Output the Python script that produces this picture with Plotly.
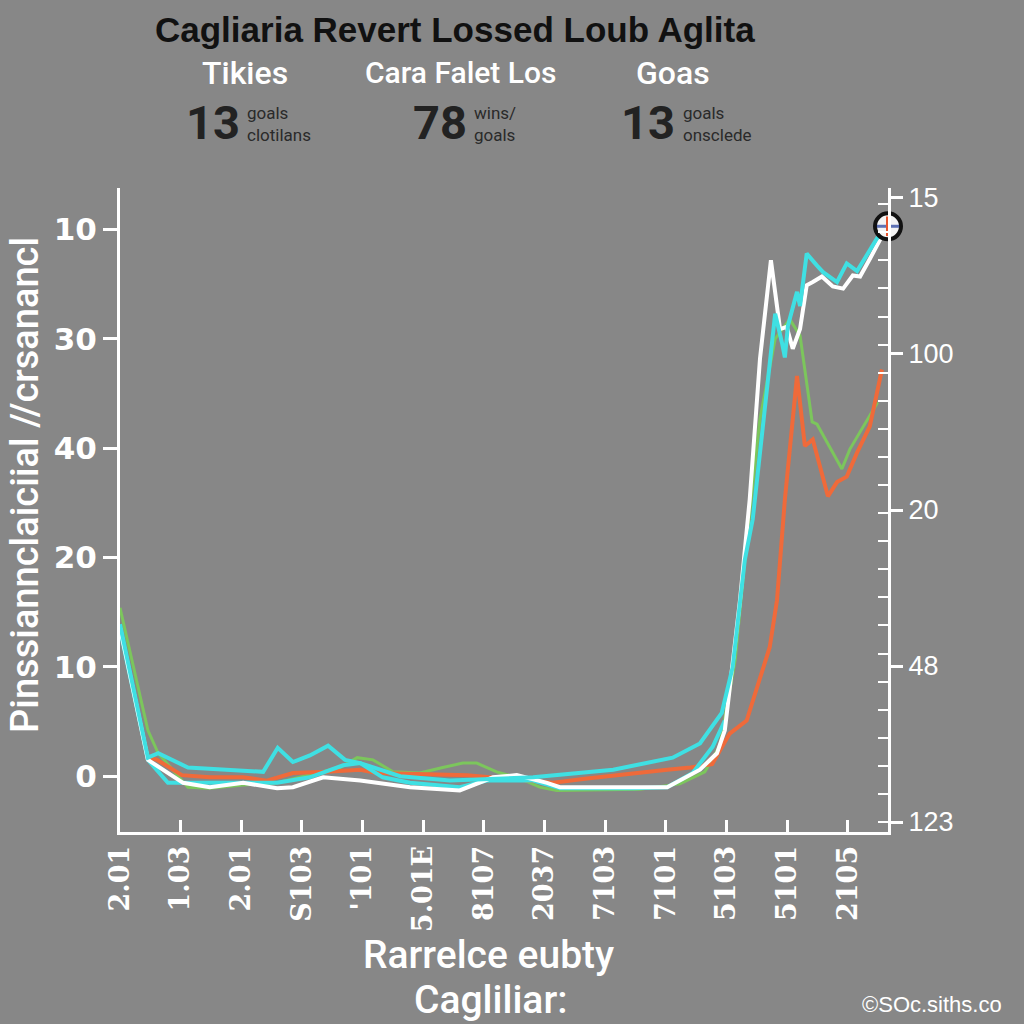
import plotly.graph_objects as go

# ---------------- data ----------------
x_ticks = list(range(13))
x_tick_labels = ["2.01", "1.03", "2.01", "S103", "'101", "5.01E", "8107",
                 "2037", "7103", "7101", "5103", "5101", "2105"]

left_tick_vals = [0, 10, 20, 30, 40, 50]
left_tick_text = ["0", "10", "20", "40", "30", "10"]

right_tick_vals = [0, 1, 2, 3, 4]
right_tick_text = ["123", "48", "20", "100", "15"]

white_x = [0, 0.46, 1.04, 1.48, 2.03, 2.59, 2.85, 3.35, 3.96, 4.78, 5.60, 6.15, 6.54,
           7.04, 7.25, 9.02, 9.56, 9.84, 9.97, 10.09, 10.22, 10.38, 10.55, 10.73,
           10.88, 10.99, 11.09, 11.21, 11.32, 11.42, 11.57, 11.75, 11.92, 12.08,
           12.20, 12.36, 12.56]
white_y = [13.6, 1.5, -0.6, -1.0, -0.6, -1.1, -1.0, -0.1, -0.4, -1.0, -1.3, -0.1, 0.1,
           -0.6, -1.0, -1.0, 0.6, 2.1, 4.2, 10.0, 16.1, 25.3, 38.2, 47.2,
           40.9, 41.1, 39.1, 40.9, 44.9, 45.2, 45.7, 44.8, 44.6, 45.8,
           45.7, 47.3, 49.4]

cyan_a_x = [0, 0.46, 0.63, 1.12, 2.36, 2.60, 2.85, 3.13, 3.43, 3.71, 3.96, 4.62, 5.44,
            6.81, 8.13, 9.11, 9.56, 9.92, 10.10, 10.30, 10.43, 10.55, 10.80, 10.91,
            10.96, 11.01, 11.16, 11.21, 11.32, 11.49, 11.59, 11.82, 11.98, 12.15,
            12.31, 12.48, 12.66]
cyan_a_y = [13.9, 1.7, 2.1, 0.8, 0.4, 2.6, 1.3, 1.9, 2.8, 1.5, 1.2, 0.0, -0.4,
            -0.1, 0.6, 1.7, 3.0, 5.8, 10.0, 19.8, 23.5, 29.6, 42.3, 39.7,
            38.3, 41.2, 44.3, 43.0, 47.8, 46.7, 46.1, 45.2, 46.9, 46.2,
            47.6, 49.2, 50.3]

cyan_b_x = [0, 0.46, 0.79, 1.15, 2.59, 3.13, 3.68, 3.96, 4.33, 4.78, 5.60, 6.05, 6.81,
            7.25, 8.46, 9.02, 9.44, 9.77, 9.97]
cyan_b_y = [13.4, 1.5, -0.6, -0.6, -0.6, -0.1, 1.0, 1.2, -0.1, -0.6, -1.0, -0.4, -0.4,
            -1.1, -1.1, -1.0, 0.3, 2.7, 5.1]

green_x = [0, 0.46, 0.63, 0.99, 1.12, 1.48, 2.03, 2.59, 3.63, 3.91, 4.17, 4.50, 4.94,
           5.32, 5.65, 5.88, 6.21, 6.59, 6.92, 7.20, 8.57, 9.23, 9.64, 9.89, 10.14,
           10.35, 10.55, 10.80, 11.04, 11.21, 11.29, 11.41, 11.49, 11.90, 12.03,
           12.25, 12.49]
green_y = [15.4, 4.2, 2.1, -0.2, -1.0, -1.1, -0.8, -0.6, 0.8, 1.7, 1.5, 0.4, 0.3,
           0.8, 1.2, 1.2, 0.4, -0.2, -1.0, -1.3, -1.2, -0.7, 0.4, 2.8, 10.6,
           22.6, 32.7, 40.0, 41.8, 40.3, 37.2, 32.4, 32.2, 28.1, 29.9,
           32.0, 34.2]

orange_x = [0.49, 0.61, 1.02, 1.48, 2.03, 2.42, 2.85, 3.41, 3.96, 4.24, 5.72, 6.26,
            7.14, 7.70, 8.46, 9.02, 9.40, 9.76, 10.05, 10.33, 10.71, 10.83, 10.96,
            11.16, 11.29, 11.42, 11.67, 11.82, 11.98, 12.15, 12.36, 12.56]
orange_y = [1.7, 1.5, 0.1, -0.1, -0.1, -0.4, 0.3, 0.4, 0.6, 0.3, 0.1, -0.2,
            -0.6, -0.2, 0.3, 0.6, 0.8, 1.1, 3.9, 5.1, 11.8, 16.1, 25.3,
            36.6, 30.2, 30.8, 25.6, 26.9, 27.4, 29.6, 32.0, 37.2]

stat_heads = ["Tikies", "Cara Falet Los", "Goas"]
stat_nums = ["13", "78", "13"]
stat_notes = ["goals<br>clotilans", "wins/<br>goals", "goals<br>onsclede"]

# ---------------- styling ----------------
BG = "#878787"
WHITE = "#ffffff"
CYAN = "#3fe0e3"
GREEN = "#7cc65c"
ORANGE = "#ef6a3a"
NARROW = "Liberation Sans Narrow, Roboto, Arial, sans-serif"

fig = go.Figure()

def add_line(xs, ys, color, width=4):
    fig.add_trace(go.Scatter(x=xs, y=ys, mode="lines",
                             line=dict(color=color, width=width),
                             hoverinfo="skip", showlegend=False, cliponaxis=False))

add_line(green_x, green_y, GREEN, 3)
add_line(orange_x, orange_y, ORANGE, 4)
add_line(cyan_b_x, cyan_b_y, CYAN, 4)
add_line(white_x, white_y, WHITE, 4)
add_line(cyan_a_x, cyan_a_y, CYAN, 4)

# badge at end of the cyan line
fig.add_trace(go.Scatter(x=[cyan_a_x[-1]], y=[cyan_a_y[-1]], mode="markers",
                         marker=dict(symbol="circle", size=26, color="#f4f4f4",
                                     line=dict(color="#111111", width=4)),
                         hoverinfo="skip", showlegend=False, cliponaxis=False))
fig.add_trace(go.Scatter(x=[cyan_a_x[-1]], y=[cyan_a_y[-1]], mode="markers",
                         marker=dict(symbol="line-ew", size=16,
                                     line=dict(color="#1f3a9a", width=3)),
                         opacity=0.7, hoverinfo="skip", showlegend=False, cliponaxis=False))
fig.add_trace(go.Scatter(x=[cyan_a_x[-1]], y=[cyan_a_y[-1]], mode="markers",
                         marker=dict(symbol="line-ns", size=14,
                                     line=dict(color="#e8552e", width=4)),
                         hoverinfo="skip", showlegend=False, cliponaxis=False))

# dummy trace for the right axis
fig.add_trace(go.Scatter(x=[None], y=[None], yaxis="y2", showlegend=False))

fig.update_layout(
    width=1024, height=1024,
    paper_bgcolor=BG, plot_bgcolor=BG,
    margin=dict(l=120, r=136, t=188, b=192),
    showlegend=False,
    xaxis=dict(
        range=[0, 12.66], tickmode="array", tickvals=x_ticks, ticktext=x_tick_labels,
        tickangle=-90, ticks="inside", ticklen=12, tickwidth=3, tickcolor=WHITE,
        showline=True, linecolor=WHITE, linewidth=3, showgrid=False, zeroline=False,
        tickfont=dict(family="DejaVu Serif", size=27, color=WHITE, weight="bold"),
    ),
    yaxis=dict(
        range=[-5.1, 53.8], tickmode="array", tickvals=left_tick_vals, ticktext=left_tick_text,
        ticks="outside", ticklen=14, tickwidth=3, tickcolor=WHITE,
        showline=True, linecolor=WHITE, linewidth=3, showgrid=False, zeroline=False,
        tickfont=dict(family="DejaVu Sans", size=31, color=WHITE, weight="bold"),
    ),
    yaxis2=dict(
        overlaying="y", side="right", anchor="x",
        range=[-0.064, 4.064], tickmode="array", tickvals=right_tick_vals,
        ticktext=right_tick_text,
        ticks="outside", ticklen=12, tickwidth=3, tickcolor=WHITE,
        showline=True, linecolor=WHITE, linewidth=3, showgrid=False, zeroline=False,
        tickfont=dict(family="Liberation Sans", size=27, color=WHITE),
        minor=dict(tick0=0, dtick=0.18, ticks="inside", ticklen=10, tickwidth=2,
                   tickcolor=WHITE, showgrid=False),
    ),
)

ann = []
ann.append(dict(text="<b>Cagliaria Revert Lossed Loub Aglita</b>", x=455, y=30,
                font=dict(family="Liberation Sans", size=35, color="#111111")))
heads_x = [245, 460, 673]
nums_x = [213, 440, 648]
notes_x = [245, 472, 681]
head_sizes = [32, 30, 32]
for h, n, note, hx, nx, ntx, hs in zip(stat_heads, stat_nums, stat_notes,
                                       heads_x, nums_x, notes_x, head_sizes):
    ann.append(dict(text=h, x=hx, y=73,
                    font=dict(family=NARROW, size=hs, color=WHITE, weight=500)))
    ann.append(dict(text="<b>" + n + "</b>", x=nx, y=122,
                    font=dict(family=NARROW, size=47, color="#222222")))
    ann.append(dict(text=note, x=ntx, y=124, xanchor="left",
                    font=dict(family=NARROW, size=17, color="#2a2a2a")))
ann.append(dict(text="Rarrelce eubty", x=488, y=955,
                font=dict(family=NARROW, size=39, color=WHITE, weight=500)))
ann.append(dict(text="Cagliliar:", x=490, y=1000,
                font=dict(family=NARROW, size=39, color=WHITE, weight=500)))
ann.append(dict(text="©SOc.siths.co", x=932, y=1004,
                font=dict(family="Liberation Sans", size=22, color=WHITE)))
ann.append(dict(text="Pinssiannclaiciial //crsanancl", x=25, y=485, textangle=-90,
                font=dict(family=NARROW, size=38, color=WHITE, weight=500)))

layout_ann = []
for a in ann:
    d = dict(xref="paper", yref="paper", showarrow=False,
             xanchor=a.get("xanchor", "center"), yanchor="middle",
             x=(a["x"] - 120) / 768, y=(832 - a["y"]) / 644,
             text=a["text"], font=a["font"])
    if "textangle" in a:
        d["textangle"] = a["textangle"]
    if a.get("xanchor") == "left":
        d["align"] = "left"
    layout_ann.append(d)
fig.update_layout(annotations=layout_ann)

fig.write_html("out.html", config={"displayModeBar": False},
               post_script="document.body.style.margin='0';document.body.style.overflow='hidden';"
                           "document.body.style.background='#878787';")
